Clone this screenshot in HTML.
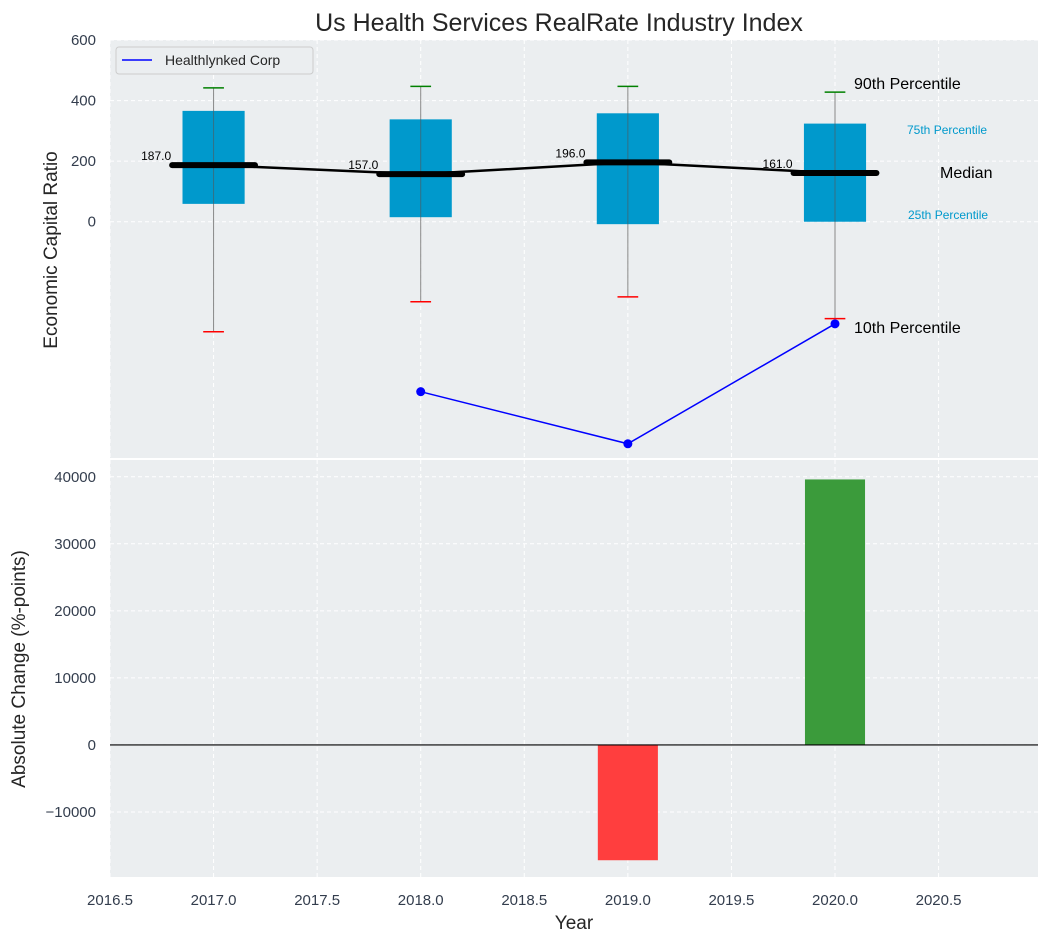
<!DOCTYPE html>
<html><head><meta charset="utf-8"><style>
body{margin:0;background:#fff;}
svg{display:block;font-family:"Liberation Sans","DejaVu Sans",sans-serif;}
</style></head><body>
<svg id="c" width="1048" height="942"></svg>
<script>
const years=[2017,2018,2019,2020];
const p10=[-363,-264,-248,-320];
const p25=[59,15,-8,0];
const p50=[187,157,196,161];
const p75=[366,338,358,324];
const p90=[442,447,447,428];
const companyYears=[2018,2019,2020];
const companyVals=[-561,-733,-337];
const changeYears=[2019,2020];
const changeVals=[-17200,39600];
const xTicks=[2016.5,2017,2017.5,2018,2018.5,2019,2019.5,2020,2020.5];
const yTopTicks=[0,200,400,600];
const yBotTicks=[-10000,0,10000,20000,30000,40000];

const svg=document.getElementById('c');
const NS='http://www.w3.org/2000/svg';
function el(tag,attrs,parent,text){const e=document.createElementNS(NS,tag);for(const k in attrs)e.setAttribute(k,attrs[k]);if(text!==undefined)e.textContent=text;(parent||svg).appendChild(e);return e;}
const L=110,R=1038;
const x=v=>L+(v-2016.5)*(R-L)/(2020.98-2016.5);
const T0=40,T1=458;const yT=v=>T0+(600-v)*(T1-T0)/(600+780);
const B0=460,B1=877;const yB=v=>B0+(42500-v)*(B1-B0)/(42500+19700);

let t=el('text',{x:559,y:31,'text-anchor':'middle','font-size':25,fill:'#262626'},svg,'Us Health Services RealRate Industry Index');


let pt=el('rect',{x:L,y:T0,width:R-L,height:T1-T0,fill:'#ebeef0'});

let pb=el('rect',{x:L,y:B0,width:R-L,height:B1-B0,fill:'#ebeef0'});


xTicks.forEach(v=>{
  el('line',{x1:x(v),x2:x(v),y1:T0,y2:T1,stroke:'#fff','stroke-dasharray':'4,3','stroke-width':1});
  el('line',{x1:x(v),x2:x(v),y1:B0,y2:B1,stroke:'#fff','stroke-dasharray':'4,3','stroke-width':1});
  let tl=el('text',{x:x(v),y:905,'text-anchor':'middle','font-size':15,fill:'#333d4d'},svg,v.toFixed(1));
  
});
yTopTicks.forEach(v=>{
  el('line',{x1:L,x2:R,y1:yT(v),y2:yT(v),stroke:'#fff','stroke-dasharray':'4,3'});
  let tl=el('text',{x:96,y:yT(v)+5,'text-anchor':'end','font-size':15,fill:'#333d4d'},svg,String(v));
  
});
yBotTicks.forEach(v=>{
  el('line',{x1:L,x2:R,y1:yB(v),y2:yB(v),stroke:'#fff','stroke-dasharray':'4,3'});
  let tl=el('text',{x:96,y:yB(v)+5,'text-anchor':'end','font-size':15,fill:'#333d4d'},svg,v<0?'\u2212'+Math.abs(v):String(v));
  
});

const bw=0.3,cw=0.1,mw=0.4;
years.forEach((yr,i)=>{
  const g=el('g',{});
  
  el('line',{x1:x(yr),x2:x(yr),y1:yT(p90[i]),y2:yT(p10[i]),stroke:'#888','stroke-width':1},g);
  el('rect',{x:x(yr-bw/2),y:yT(p75[i]),width:x(yr+bw/2)-x(yr-bw/2),height:yT(p25[i])-yT(p75[i]),fill:'#0099cc'},g);
  el('line',{x1:x(yr),x2:x(yr),y1:yT(p75[i]),y2:yT(p25[i]),stroke:'#555','stroke-width':1,opacity:0.6},g);
  el('line',{x1:x(yr-cw/2),x2:x(yr+cw/2),y1:yT(p90[i]),y2:yT(p90[i]),stroke:'green','stroke-width':1.5},g);
  el('line',{x1:x(yr-cw/2),x2:x(yr+cw/2),y1:yT(p10[i]),y2:yT(p10[i]),stroke:'red','stroke-width':1.5},g);
  el('line',{x1:x(yr-mw/2),x2:x(yr+mw/2),y1:yT(p50[i]),y2:yT(p50[i]),stroke:'#000','stroke-width':6,'stroke-linecap':'round'},g);
  el('text',{x:x(yr-mw/2)-1,y:yT(p50[i])-5,'text-anchor':'end','font-size':12,fill:'#000'},g,p50[i].toFixed(1));
});
let ml=el('polyline',{points:years.map((yr,i)=>x(yr)+','+yT(p50[i])).join(' '),fill:'none',stroke:'#000','stroke-width':2.5});


let cl=el('polyline',{points:companyYears.map((yr,i)=>x(yr)+','+yT(companyVals[i])).join(' '),fill:'none',stroke:'blue','stroke-width':1.5});

companyYears.forEach((yr,i)=>{
  let c=el('circle',{cx:x(yr),cy:yT(companyVals[i]),r:4.5,fill:'blue'});
  
});

const ann=[['90th Percentile',854,89,16,'#000'],['75th Percentile',907,134,12,'#0099cc'],['Median',940,178,16,'#000'],['25th Percentile',908,219,12,'#0099cc'],['10th Percentile',854,333,16,'#000']];
ann.forEach(a=>{let e=el('text',{x:a[1],y:a[2],'font-size':a[3],fill:a[4]},svg,a[0]);
  });

const lg=el('g',{});

el('rect',{x:116,y:47,width:197,height:27,rx:3,fill:'#ebeef0',stroke:'#ccc'},lg);
el('line',{x1:122,x2:152,y1:60,y2:60,stroke:'blue','stroke-width':1.5},lg);
el('text',{x:165,y:65,'font-size':14,fill:'#262626'},lg,'Healthlynked Corp');

changeYears.forEach((yr,i)=>{
  const v=changeVals[i];
  let r=el('rect',{x:x(yr-0.145),width:x(yr+0.145)-x(yr-0.145),y:Math.min(yB(0),yB(v)),height:Math.abs(yB(v)-yB(0)),fill:v<0?'#ff3e3e':'#3b9b3b'});
  
});
let zl=el('line',{x1:L,x2:R,y1:yB(0),y2:yB(0),stroke:'#000','stroke-width':1.2});


let a1=el('text',{x:57,y:250,'text-anchor':'middle','font-size':19,fill:'#262626',transform:'rotate(-90 57 250)'},svg,'Economic Capital Ratio');

let a2=el('text',{x:25,y:669,'text-anchor':'middle','font-size':19,fill:'#262626',transform:'rotate(-90 25 669)'},svg,'Absolute Change (%-points)');

let a3=el('text',{x:574,y:929,'text-anchor':'middle','font-size':19,fill:'#262626'},svg,'Year');

</script>
</body></html>
